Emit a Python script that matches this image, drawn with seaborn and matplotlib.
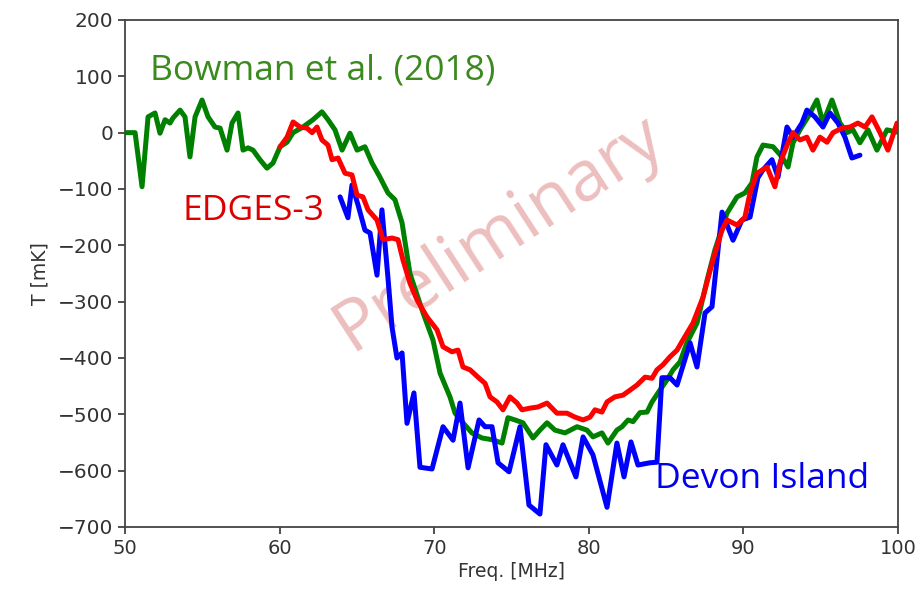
import matplotlib
matplotlib.use("Agg")
import matplotlib.pyplot as plt
import seaborn as sns
import numpy as np
import pandas as pd

# ---- data ----
bowman_f = [50.0, 50.65, 51.1, 51.49, 51.94, 52.26, 52.59, 52.91, 53.1, 53.56, 53.88, 54.2, 54.53, 54.98,
            55.37, 55.82, 56.15, 56.6, 56.92, 57.31, 57.63, 57.96, 58.28, 58.73, 59.18, 59.57, 60.03, 60.48,
            60.87, 61.51, 62.16, 62.74, 63.13, 63.58, 64.04, 64.55, 65.01, 65.52, 65.98, 66.49, 67.01, 67.46,
            67.92, 68.43, 69.28, 69.92, 70.38, 71.02, 71.35, 71.86, 72.44, 73.09, 73.74, 74.39, 74.77, 75.23,
            75.74, 76.39, 76.84, 77.3, 77.81, 78.46, 79.24, 79.88, 80.27, 80.85, 81.24, 81.82, 82.15, 82.54,
            82.86, 83.31, 83.77, 84.09, 84.48, 85.06, 85.45, 85.9, 86.35, 87.0, 87.65, 88.16, 88.94, 89.59,
            90.1, 90.56, 90.88, 91.27, 91.92, 92.5, 92.89, 93.21, 93.66, 94.18, 94.76, 95.15, 95.73, 96.25,
            96.7, 97.09, 97.54, 98.06, 98.64, 99.29, 99.94]
bowman_t = [0, 0, -96, 28, 35, -1, 23, 17, 26, 40, 28, -43, 28, 58,
            28, 10, 8, -31, 17, 35, -31, -27, -31, -48, -63, -54, -25, -17,
            0, 10, 23, 37, 23, 5, -31, -1, -31, -25, -54, -79, -107, -119,
            -160, -250, -320, -368, -427, -469, -498, -515, -533, -542, -545, -551, -506, -510,
            -515, -542, -528, -515, -528, -533, -522, -528, -540, -533, -551, -528, -522, -510,
            -513, -497, -496, -478, -462, -439, -421, -407, -373, -338, -262, -208, -143, -114,
            -107, -89, -43, -22, -25, -43, -61, -18, 5, 28, 58, 17, 58, 17,
            0, 5, -18, 5, -31, 5, 1]

edges_f = [60.03, 60.48, 60.87, 61.32, 61.77, 62.1, 62.42, 62.74, 63.13, 63.39, 63.78, 64.23, 64.68, 65.01,
           65.39, 65.72, 66.3, 66.69, 67.27, 67.66, 67.98, 68.43, 68.89, 69.53, 70.18, 70.57, 71.15, 71.54,
           71.86, 72.32, 72.83, 73.29, 73.61, 74.06, 74.45, 74.9, 75.36, 75.68, 76.2, 76.71, 77.3, 77.94,
           78.59, 79.11, 79.63, 80.08, 80.4, 80.85, 81.18, 81.69, 82.21, 82.67, 83.12, 83.64, 84.09, 84.41,
           84.8, 85.25, 85.71, 86.09, 86.74, 87.39, 88.03, 88.62, 88.94, 89.59, 90.1, 90.43, 90.88, 91.53,
           92.04, 92.37, 92.89, 93.21, 93.66, 94.11, 94.5, 94.95, 95.41, 95.8, 96.38, 96.9, 97.41, 97.87,
           98.32, 98.84, 99.35, 99.94]
edges_t = [-25, -8, 19, 10, 8, 0, 10, -13, -22, -48, -45, -72, -75, -111,
           -114, -137, -155, -190, -187, -190, -226, -267, -297, -327, -350, -380, -389, -386,
           -416, -421, -434, -445, -469, -478, -492, -469, -480, -492, -489, -487, -480, -498,
           -498, -505, -510, -505, -492, -496, -478, -469, -466, -457, -448, -434, -436, -421,
           -412, -398, -386, -368, -338, -292, -226, -173, -155, -164, -150, -107, -72, -61,
           -96, -54, -18, 0, -13, -8, -31, -8, -17, 0, 8, 10, 17, 10,
           28, 0, -31, 17]

devon_f = [63.91, 64.42, 64.68, 65.07, 65.52, 65.85, 66.3, 66.62, 67.01, 67.27, 67.59, 67.92, 68.24, 68.69,
           69.08, 69.86, 70.57, 71.22, 71.67, 72.19, 72.9, 73.29, 73.74, 74.13, 74.84, 75.55, 76.13, 76.84,
           77.23, 77.94, 78.33, 79.17, 79.63, 80.27, 81.18, 81.82, 82.28, 82.73, 83.18, 83.96, 84.41, 84.73,
           85.25, 85.71, 86.55, 87.0, 87.52, 87.97, 88.62, 89.33, 89.91, 90.43, 90.94, 91.27, 91.85, 92.24,
           92.82, 93.21, 93.79, 94.11, 94.63, 95.15, 95.6, 96.12, 96.57, 97.02, 97.54]
devon_t = [-114, -151, -93, -128, -173, -178, -253, -137, -258, -345, -400, -391, -516, -462,
           -594, -597, -522, -546, -480, -595, -510, -522, -522, -586, -602, -522, -661, -677,
           -554, -590, -554, -611, -540, -572, -665, -551, -611, -549, -590, -586, -585, -435,
           -435, -448, -373, -416, -320, -309, -141, -191, -155, -150, -80, -66, -48, -79,
           10, -8, 17, 40, 28, 10, 35, 17, -8, -45, -40]

x_ticks = [50, 60, 70, 80, 90, 100]
y_ticks = [-700, -600, -500, -400, -300, -200, -100, 0, 100, 200]

sns.set_theme(style="white")
plt.rcParams['font.family'] = ['DejaVu Sans']

fig = plt.figure(figsize=(9.16, 5.95), dpi=100)
ax = fig.add_axes([0.1365, 0.1143, 0.8438, 0.8521])

lw = 3.6
sns.lineplot(x=bowman_f, y=bowman_t, ax=ax, color=(0, 0.5, 0), lw=lw, sort=False, estimator=None)
sns.lineplot(x=devon_f, y=devon_t, ax=ax, color=(0, 0, 1), lw=lw, sort=False, estimator=None)
sns.lineplot(x=edges_f, y=edges_t, ax=ax, color=(1, 0, 0), lw=lw, sort=False, estimator=None)

ax.set_xlim(50, 100)
ax.set_ylim(-700, 200)
ax.set_xticks(x_ticks)
ax.set_yticks(y_ticks)
ax.tick_params(axis='both', which='both', direction='out', length=5, width=1.2,
               colors='#333333', left=True, bottom=True)
ax.tick_params(axis='x', labelsize=14)
ax.tick_params(axis='y', labelsize=14.5)
for s in ax.spines.values():
    s.set_visible(True)
    s.set_color('#444444')
    s.set_linewidth(1.3)
ax.set_xlabel("Freq. [MHz]", fontsize=13.5, color='#333333', labelpad=3)
ax.set_ylabel("T [mK]", fontsize=13.5, color='#333333', labelpad=6)

ann_font = ['Open Sans', 'DejaVu Sans']
ax.text(51.6, 94, "Bowman et al. (2018)", color='#3a8a1e', fontsize=25.5, family=ann_font, va='baseline')
ax.text(53.7, -155, "EDGES-3", color='#dd0000', fontsize=25.5, family=ann_font, va='baseline')
ax.text(84.3, -630, "Devon Island", color='#0000ee', fontsize=25.5, family=ann_font, va='baseline')
ax.text(74.2, -178, "Preliminary", color='#eab3b3', alpha=0.85, fontsize=51, rotation=33,
        family=['Open Sans', 'DejaVu Sans'], ha='center', va='center', zorder=0)

fig.savefig("out.png", dpi=100)
